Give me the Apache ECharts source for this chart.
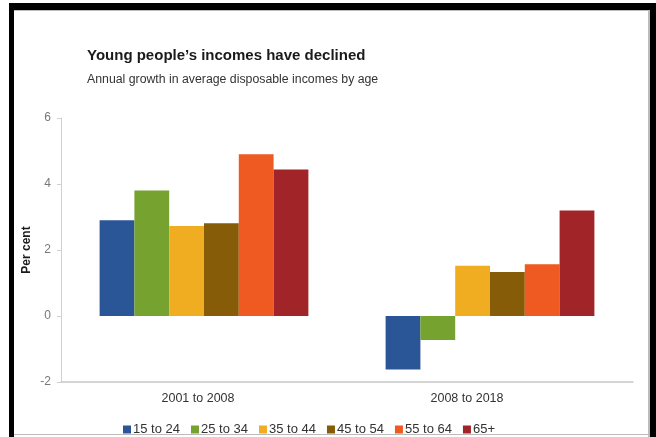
<!DOCTYPE html>
<html>
<head>
<meta charset="utf-8">
<script src="https://cdn.jsdelivr.net/npm/echarts@6/dist/echarts.min.js"></script>
<style>
html,body{margin:0;padding:0;background:#fff;}
#chart{position:absolute;left:0;top:0;width:656px;height:437px;}
.b{position:absolute;pointer-events:none;}
</style>
</head>
<body>
<div id="chart"></div>
<div class="b" style="left:9px;top:3px;width:647px;height:7px;background:#000;"></div>
<div class="b" style="left:9px;top:3px;width:5px;height:434px;background:#000;"></div>
<div class="b" style="left:650px;top:3px;width:6px;height:434px;background:#000;"></div>
<div class="b" style="left:14px;top:10px;width:636px;height:1px;background:#bbb;"></div>
<div class="b" style="left:648px;top:10px;width:2px;height:427px;background:#bbb;"></div>
<div class="b" style="left:14px;top:434px;width:636px;height:1px;background:#bbb;"></div>
<script>
const categories = ['2001 to 2008', '2008 to 2018'];
const seriesNames = ['15 to 24', '25 to 34', '35 to 44', '45 to 54', '55 to 64', '65+'];
const age15to24 = [2.9, -1.62];
const age25to34 = [3.8, -0.73];
const age35to44 = [2.73, 1.52];
const age45to54 = [2.81, 1.33];
const age55to64 = [4.9, 1.57];
const age65plus = [4.44, 3.2];
const yTicks = [-2, 0, 2, 4, 6];

const values = [age15to24, age25to34, age35to44, age45to54, age55to64, age65plus];
const colors = ['#2a5597', '#76a22f', '#f0ad22', '#875c08', '#ee5a21', '#a12428'];
const font = 'Liberation Sans, Arial, sans-serif';

const chart = echarts.init(document.getElementById('chart'));
chart.setOption({
  animation: false,
  backgroundColor: '#fff',
  title: {
    text: 'Young people\u2019s incomes have declined',
    subtext: 'Annual growth in average disposable incomes by age',
    left: 82, top: 43,
    itemGap: 11,
    textStyle: {fontFamily: font, fontSize: 15, fontWeight: 'bold', color: '#1a1a1a'},
    subtextStyle: {fontFamily: font, fontSize: 12.3, color: '#333'}
  },
  legend: {
    data: seriesNames,
    left: 118, top: 418,
    itemWidth: 8, itemHeight: 8, itemGap: 11,
    icon: 'rect',
    textStyle: {fontFamily: font, fontSize: 13, color: '#333', padding: [0, 0, 0, -3]}
  },
  grid: {left: 61, right: 23, top: 118, bottom: 55},
  xAxis: [{
    type: 'category', data: categories,
    axisLine: {show: false}, axisTick: {show: false},
    axisLabel: {
      margin: 10,
      formatter: (v, i) => i === 0 ? '{a|' + v + '}' : '{b|' + v + '}',
      rich: {
        a: {fontFamily: font, fontSize: 12.5, color: '#333', padding: [0, 12, 0, 0]},
        b: {fontFamily: font, fontSize: 12.5, color: '#333', padding: [0, 46, 0, 0]}
      }
    }
  }, {
    type: 'category', data: categories, position: 'bottom',
    axisLine: {show: true, onZero: true, lineStyle: {color: '#c8c8c8', width: 1.5}},
    axisTick: {show: false}, axisLabel: {show: false}
  }],
  yAxis: {
    type: 'value', min: -2, max: 6, interval: 2,
    name: 'Per cent', nameLocation: 'middle', nameGap: 28, nameMoveOverlap: false,
    nameTextStyle: {fontFamily: font, fontSize: 12, fontWeight: 'bold', color: '#1a1a1a'},
    axisLine: {show: true, lineStyle: {color: '#d0d0d0'}},
    axisTick: {show: true, length: 4, lineStyle: {color: '#d0d0d0'}},
    splitLine: {show: false},
    axisLabel: {fontFamily: font, fontSize: 12, color: '#777', margin: 10,
      formatter: v => yTicks.includes(v) ? String(v) : ''}
  },
  series: seriesNames.map((n, i) => ({
    name: n, type: 'bar', data: values[i],
    barGap: '0%', barCategoryGap: '27%',
    itemStyle: {color: colors[i]}
  }))
});
</script>
</body>
</html>
